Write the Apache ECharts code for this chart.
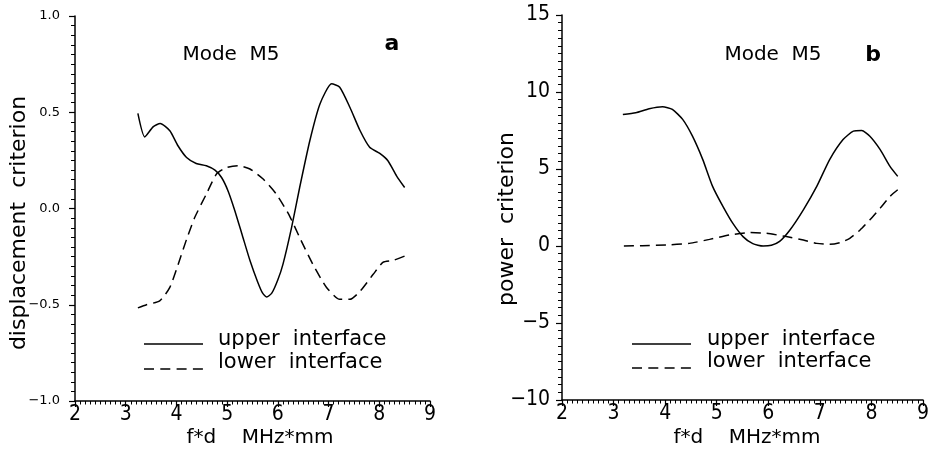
<!DOCTYPE html>
<html><head><meta charset="utf-8">
<script src="https://cdn.jsdelivr.net/npm/echarts@6/dist/echarts.min.js"></script>
<style>html,body{margin:0;padding:0;background:#fff}#c{width:933px;height:452px}</style>
</head><body><div id="c"></div>
<script>
// Panel a: displacement criterion
const xUpperA = [3.24,3.375,3.54,3.68,3.87,4.03,4.20,4.39,4.59,4.76,4.89,5.02,5.15,5.30,5.45,5.60,5.70,5.78,5.88,6.00,6.10,6.27,6.43,6.63,6.83,7.06,7.22,7.42,7.62,7.81,8.01,8.17,8.34,8.50];
const yUpperA = [0.494,0.372,0.424,0.442,0.404,0.326,0.265,0.234,0.222,0.199,0.161,0.09,-0.01,-0.14,-0.27,-0.38,-0.44,-0.46,-0.44,-0.37,-0.29,-0.099,0.109,0.352,0.543,0.648,0.63,0.526,0.405,0.318,0.286,0.248,0.170,0.109];
const xLowerA = [3.24,3.41,3.67,3.87,4.06,4.20,4.36,4.59,4.79,4.99,5.21,5.45,5.71,5.97,6.23,6.43,6.69,6.96,7.22,7.42,7.62,7.88,8.07,8.27,8.50];
const yLowerA = [-0.516,-0.50,-0.48,-0.41,-0.27,-0.16,-0.047,0.075,0.179,0.213,0.222,0.205,0.153,0.075,-0.038,-0.151,-0.29,-0.41,-0.472,-0.472,-0.43,-0.342,-0.28,-0.27,-0.247];
// Panel b: power criterion
const xUpperB = [3.18,3.43,3.69,3.95,4.14,4.34,4.53,4.73,4.92,5.12,5.31,5.51,5.70,5.90,6.06,6.22,6.42,6.68,6.94,7.19,7.45,7.65,7.81,7.97,8.17,8.36,8.51];
const yUpperB = [8.54,8.65,8.91,9.04,8.87,8.22,7.13,5.61,3.87,2.57,1.48,0.61,0.15,0.0,0.05,0.3,1.04,2.35,3.87,5.61,6.91,7.46,7.5,7.13,6.26,5.17,4.52];
const xLowerB = [3.20,3.56,4.08,4.47,4.86,5.25,5.64,5.96,6.35,6.68,6.94,7.19,7.39,7.58,7.78,7.97,8.17,8.36,8.51];
const yLowerB = [0.0,0.02,0.07,0.17,0.43,0.72,0.87,0.83,0.61,0.39,0.17,0.11,0.22,0.5,1.04,1.7,2.46,3.22,3.65];

const xTicks = [2,3,4,5,6,7,8,9];
const yTicksA = [-1.0,-0.5,0.0,0.5,1.0];
const yTicksB = [-10,-5,0,5,10,15];
const seriesNames = ['upper interface','lower interface'];
const legendTexts = ['upper  interface','lower  interface'];
const panelTitle = 'Mode  M5';
const panelLetters = ['a','b'];
const xName = 'f*d    MHz*mm';
const yNames = ['displacement  criterion','power  criterion'];

const FONT = "'DejaVu Sans', sans-serif";
const NUMFONT = "'Liberation Sans Narrow','DejaVu Sans Condensed','DejaVu Sans',sans-serif";
const zip = (xs, ys) => xs.map((x, i) => [x, ys[i]]);

function xAxisCfg(idx) {
  return {
    type: 'value', gridIndex: idx, min: xTicks[0], max: xTicks[xTicks.length-1], interval: 1,
    axisLine: {show: true, onZero: false, lineStyle: {color: '#000', width: 1.5}},
    axisTick: {show: true, length: 6, lineStyle: {color: '#000', width: 1.2}},
    minorTick: {show: true, splitNumber: 10, length: 3.5, lineStyle: {color: '#000', width: 1}},
    splitLine: {show: false}, minorSplitLine: {show: false},
    axisLabel: {color: '#000', fontSize: 21, fontFamily: NUMFONT, margin: 3}
  };
}
function yAxisCfg(idx, ticks, fmt, fs, ff, margin) {
  return {
    type: 'value', gridIndex: idx, min: ticks[0], max: ticks[ticks.length-1], interval: ticks[1]-ticks[0],
    axisLine: {show: true, onZero: false, lineStyle: {color: '#000', width: 1.5}},
    axisTick: {show: true, length: 6, lineStyle: {color: '#000', width: 1.2}},
    minorTick: {show: true, splitNumber: 10, length: 4, lineStyle: {color: '#000', width: 1}},
    splitLine: {show: false}, minorSplitLine: {show: false},
    axisLabel: {color: '#000', fontSize: fs, fontFamily: ff, margin: margin, formatter: fmt}
  };
}
function lineSeries(name, data, idx, dashed) {
  return {
    name, type: 'line', xAxisIndex: idx, yAxisIndex: idx, data, smooth: 0.2,
    symbol: 'none', silent: true,
    lineStyle: {color: '#000', width: 1.5, type: dashed ? [10, 6] : 'solid'}
  };
}
function legendGroup(x0, yUp, yLow, tx) {
  return [
    {type: 'line', shape: {x1: x0, y1: yUp, x2: x0 + 59, y2: yUp}, style: {stroke: '#000', lineWidth: 1.5}},
    {type: 'line', shape: {x1: x0, y1: yLow, x2: x0 + 59, y2: yLow}, style: {stroke: '#000', lineWidth: 1.5, lineDash: [10, 6.3]}},
    {type: 'text', style: {x: tx, y: yUp - 4, text: legendTexts[0], font: '21px ' + FONT, fill: '#000', textVerticalAlign: 'middle'}},
    {type: 'text', style: {x: tx, y: yLow - 6, text: legendTexts[1], font: '21px ' + FONT, fill: '#000', textVerticalAlign: 'middle'}}
  ];
}

const chart = echarts.init(document.getElementById('c'), null, {renderer: 'canvas'});
chart.setOption({
  animation: false,
  backgroundColor: '#fff',
  grid: [
    {left: 75, top: 16, width: 355, height: 385},
    {left: 562, top: 15, width: 361, height: 385}
  ],
  xAxis: [xAxisCfg(0), xAxisCfg(1)],
  yAxis: [
    yAxisCfg(0, yTicksA, v => (v < 0 ? '−' : '') + Math.abs(v).toFixed(1), 13, FONT, 15),
    yAxisCfg(1, yTicksB, v => (v < 0 ? '−' : '') + Math.abs(v), 21, NUMFONT, 12)
  ],
  series: [
    lineSeries(seriesNames[0], zip(xUpperA, yUpperA), 0, false),
    lineSeries(seriesNames[1], zip(xLowerA, yLowerA), 0, true),
    lineSeries(seriesNames[0], zip(xUpperB, yUpperB), 1, false),
    lineSeries(seriesNames[1], zip(xLowerB, yLowerB), 1, true)
  ],
  graphic: [
    {type: 'text', style: {x: 231, y: 55, text: panelTitle, font: '20px ' + FONT, fill: '#000', textAlign: 'center', textVerticalAlign: 'middle'}},
    {type: 'text', style: {x: 392, y: 44, text: panelLetters[0], font: 'bold 22px ' + FONT, fill: '#000', textAlign: 'center', textVerticalAlign: 'middle'}},
    {type: 'text', style: {x: 773, y: 55, text: panelTitle, font: '20px ' + FONT, fill: '#000', textAlign: 'center', textVerticalAlign: 'middle'}},
    {type: 'text', style: {x: 873, y: 55, text: panelLetters[1], font: 'bold 22px ' + FONT, fill: '#000', textAlign: 'center', textVerticalAlign: 'middle'}},
    {type: 'text', style: {x: 260, y: 438, text: xName, font: '20px ' + FONT, fill: '#000', textAlign: 'center', textVerticalAlign: 'middle'}},
    {type: 'text', style: {x: 747, y: 438, text: xName, font: '20px ' + FONT, fill: '#000', textAlign: 'center', textVerticalAlign: 'middle'}},
    {type: 'text', x: 19, y: 223, rotation: Math.PI / 2, style: {x: 0, y: 0, text: yNames[0], font: '22px ' + FONT, fill: '#000', textAlign: 'center', textVerticalAlign: 'middle'}},
    {type: 'text', x: 507, y: 219, rotation: Math.PI / 2, style: {x: 0, y: 0, text: yNames[1], font: '22px ' + FONT, fill: '#000', textAlign: 'center', textVerticalAlign: 'middle'}},
    ...legendGroup(144, 344, 369, 218),
    ...legendGroup(632, 344, 368, 707)
  ]
});
</script>
</body></html>
